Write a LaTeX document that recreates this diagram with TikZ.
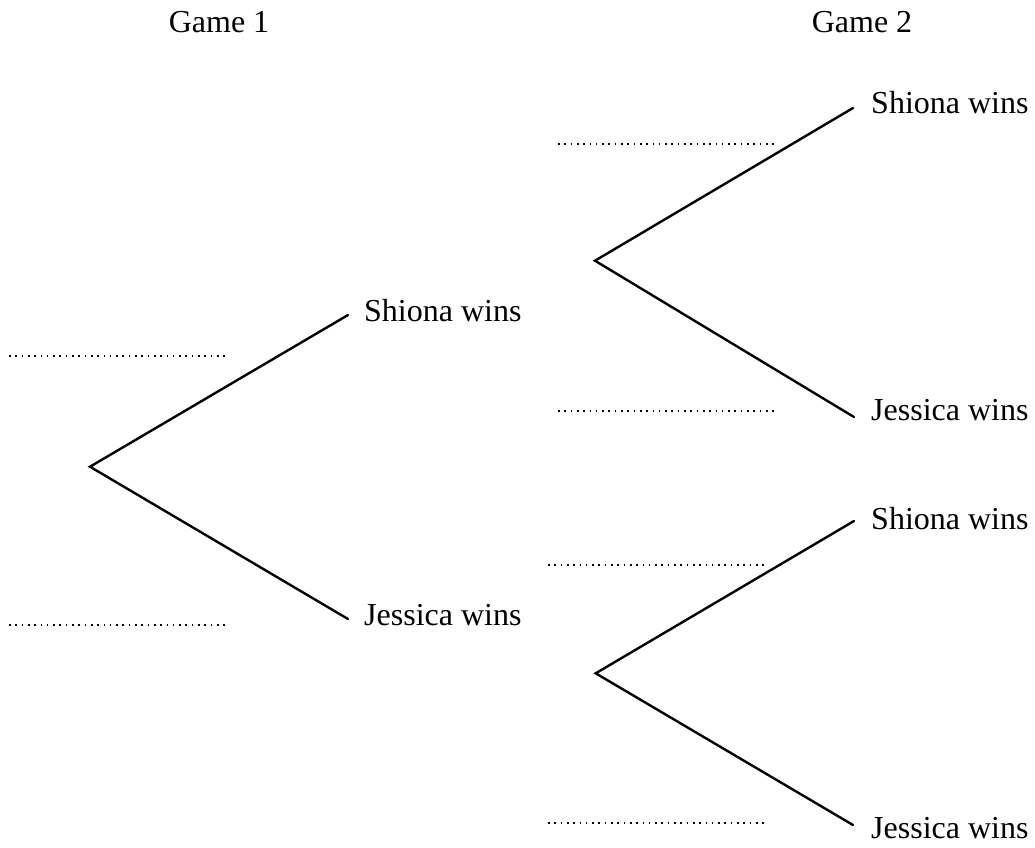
\documentclass[tikz,border=0pt]{standalone}
\usepackage{fontspec}
\setmainfont{Liberation Serif}
\begin{document}
\begin{tikzpicture}[x=1pt,y=-1pt,
  lbl/.style={inner sep=0pt,anchor=base west,font=\fontsize{32}{38}\selectfont},
  hdr/.style={inner sep=0pt,anchor=base,font=\fontsize{32}{38}\selectfont},
  branch/.style={line width=2.4pt,line cap=round,line join=miter},
  blank/.style={line width=1.6pt,dash pattern=on 1.6pt off 4.7pt}]
\useasboundingbox (0,0) rectangle (1035,847);
% headers
\node[hdr] (g1) at (219,32) {Game 1};
\node[hdr] (g2) at (862,32) {Game 2};
% vertices and branch ends
\coordinate (r1) at (90,466.7);
\coordinate (e1a) at (348,315);
\coordinate (e1b) at (348,619);
\coordinate (r2) at (595,260.7);
\coordinate (e2a) at (853,108);
\coordinate (e2b) at (854,417);
\coordinate (r3) at (595.7,673.3);
\coordinate (e3a) at (854,521);
\coordinate (e3b) at (853,825);
% labels
\node[lbl] (s1) at (364,321.7) {Shiona wins};
\node[lbl] (j1) at (364,625) {Jessica wins};
\node[lbl] (s2) at (871,113) {Shiona wins};
\node[lbl] (j2) at (871,420) {Jessica wins};
\node[lbl] (s3) at (871,529) {Shiona wins};
\node[lbl] (j3) at (871,838) {Jessica wins};
% branches
\draw[branch] (e1a) -- (r1) -- (e1b);
\draw[branch] (e2a) -- (r2) -- (e2b);
\draw[branch] (e3a) -- (r3) -- (e3b);
% answer lines
\coordinate (d1a) at (9,355.7); \coordinate (d1b) at (228,355.7);
\coordinate (d2a) at (9,625); \coordinate (d2b) at (228,625);
\coordinate (d3a) at (558,144); \coordinate (d3b) at (777,144);
\coordinate (d4a) at (558,411); \coordinate (d4b) at (776,411);
\coordinate (d5a) at (548,565); \coordinate (d5b) at (767,565);
\coordinate (d6a) at (548,823); \coordinate (d6b) at (767,823);
\draw[blank] (d1a) -- (d1b);
\draw[blank] (d2a) -- (d2b);
\draw[blank] (d3a) -- (d3b);
\draw[blank] (d4a) -- (d4b);
\draw[blank] (d5a) -- (d5b);
\draw[blank] (d6a) -- (d6b);
\end{tikzpicture}
\end{document}
